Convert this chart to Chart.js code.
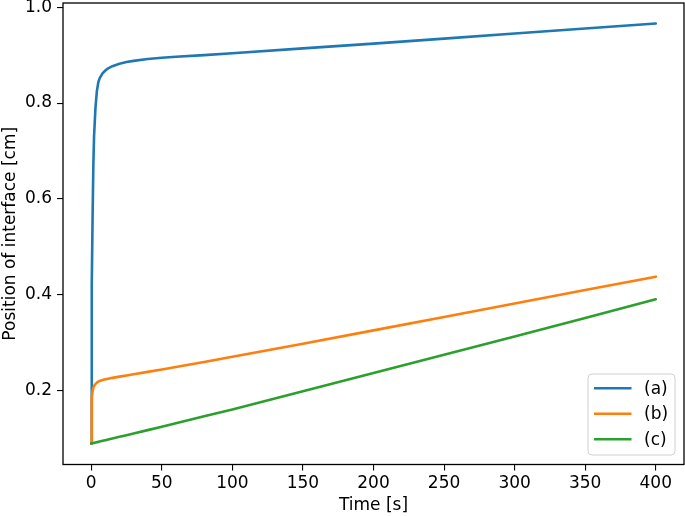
<!DOCTYPE html>
<html>
<head>
<meta charset="utf-8">
<script src="https://cdn.jsdelivr.net/npm/chart.js@4/dist/chart.umd.min.js"></script>
<style>
  html, body { margin: 0; padding: 0; background: #fff; }
  #wrap { width: 685px; height: 516px; }
</style>
</head>
<body>
<div id="wrap"><canvas id="interfaceChart" width="685" height="516"></canvas></div>
<script>
// time samples [s]
const times = [0, 0.25, 0.5, 1, 1.5, 2, 3, 4, 5, 6, 8, 10, 12, 15, 20, 25, 30, 40, 50, 60, 80, 100, 150, 200, 250, 300, 350, 400];

// position of interface [cm]
const seriesA = [0.09, 0.30, 0.42, 0.57, 0.67, 0.73, 0.79, 0.825, 0.843, 0.852, 0.862, 0.868, 0.8725, 0.877, 0.882, 0.8855, 0.888, 0.892, 0.8945, 0.8965, 0.900, 0.904, 0.914, 0.924, 0.9345, 0.945, 0.9555, 0.966];
const seriesB = [0.09, 0.16, 0.185, 0.20, 0.206, 0.21, 0.214, 0.217, 0.219, 0.2205, 0.2225, 0.224, 0.2252, 0.227, 0.2295, 0.232, 0.2345, 0.2395, 0.2445, 0.2497, 0.2602, 0.271, 0.298, 0.326, 0.354, 0.382, 0.410, 0.438];
const seriesC = [0.09, 0.0902, 0.0904, 0.0907, 0.091, 0.0914, 0.0921, 0.0928, 0.0935, 0.0942, 0.0956, 0.097, 0.0984, 0.1005, 0.104, 0.1075, 0.111, 0.118, 0.125, 0.1323, 0.1468, 0.1612, 0.199, 0.237, 0.275, 0.313, 0.352, 0.391];

const seriesLabels = ['(a)', '(b)', '(c)'];
const xTicks = [0, 50, 100, 150, 200, 250, 300, 350, 400];
const yTicks = [0.2, 0.4, 0.6, 0.8, 1.0];

const colors = ['#1f77b4', '#ff7f0e', '#2ca02c'];
const font = { family: 'DejaVu Sans', size: 17 };

function toPoints(ys) {
    return times.map((t, i) => ({ x: t, y: ys[i] }));
}

// black frame around the plot area
const framePlugin = {
    id: 'frame',
    afterDatasetsDraw(chart) {
        const a = chart.chartArea;
        const c = chart.ctx;
        c.save();
        c.strokeStyle = '#000';
        c.lineWidth = 1.3;
        c.strokeRect(a.left, a.top, a.right - a.left, a.bottom - a.top);
        c.restore();
    }
};

// matplotlib-like legend in the lower right corner
const legendPlugin = {
    id: 'mplLegend',
    afterDraw(chart) {
        const a = chart.chartArea;
        const c = chart.ctx;
        const w = 87, h = 81;
        const x = a.right - 9 - w;
        const y = a.bottom - 9.5 - h;
        c.save();
        c.beginPath();
        c.roundRect(x, y, w, h, 4);
        c.fillStyle = 'rgba(255,255,255,0.8)';
        c.fill();
        c.strokeStyle = '#d0d0d0';
        c.lineWidth = 1;
        c.stroke();
        c.font = '17px "DejaVu Sans"';
        c.textBaseline = 'middle';
        c.fillStyle = '#000';
        chart.data.datasets.forEach((ds, i) => {
            const ly = y + 14.3 + i * 25.5;
            c.beginPath();
            c.moveTo(x + 6, ly);
            c.lineTo(x + 43.5, ly);
            c.strokeStyle = ds.borderColor;
            c.lineWidth = 2.6;
            c.stroke();
            c.fillText(ds.label, x + 56, ly + 1);
        });
        c.restore();
    }
};

const ctx = document.getElementById('interfaceChart').getContext('2d');

const data = {
    datasets: [
        { label: seriesLabels[0], data: toPoints(seriesA), borderColor: colors[0], order: 3 },
        { label: seriesLabels[1], data: toPoints(seriesB), borderColor: colors[1], order: 2 },
        { label: seriesLabels[2], data: toPoints(seriesC), borderColor: colors[2], order: 1 }
    ]
};

const config = {
    type: 'line',
    data: data,
    options: {
        responsive: false,
        animation: false,
        parsing: false,
        layout: { autoPadding: false, padding: { top: 3, right: 1, left: 0, bottom: 0 } },
        elements: {
            point: { radius: 0 },
            line: { borderWidth: 2.6, tension: 0, fill: false, borderCapStyle: 'round', borderJoinStyle: 'round' }
        },
        plugins: {
            legend: { display: false },
            tooltip: { enabled: false }
        },
        scales: {
            x: {
                type: 'linear',
                min: -20,
                max: 420,
                afterBuildTicks: s => { s.ticks = xTicks.map(v => ({ value: v })); },
                afterFit: s => { s.height = 51.5; s.paddingLeft = 0; s.paddingRight = 0; },
                border: { display: false },
                grid: { drawOnChartArea: false, drawTicks: true, tickLength: 6, color: '#000', lineWidth: 1.1 },
                ticks: { color: '#000', font: font, padding: 3, maxRotation: 0 },
                title: { display: true, text: 'Time [s]', color: '#000', font: font, padding: { top: 0, bottom: 0 } }
            },
            y: {
                type: 'linear',
                min: 0.0463,
                max: 1.0087,
                afterBuildTicks: s => { s.ticks = yTicks.map(v => ({ value: v })); },
                afterFit: s => { s.width = 63; s.paddingTop = 0; s.paddingBottom = 0; },
                border: { display: false },
                grid: { drawOnChartArea: false, drawTicks: true, tickLength: 6, color: '#000', lineWidth: 1.1 },
                ticks: { color: '#000', font: font, padding: 5, callback: v => v.toFixed(1) },
                title: { display: true, text: 'Position of interface [cm]', color: '#000', font: font, padding: { top: 0, bottom: 0 } }
            }
        }
    },
    plugins: [framePlugin, legendPlugin]
};

const myChart = new Chart(ctx, config);
</script>
</body>
</html>
